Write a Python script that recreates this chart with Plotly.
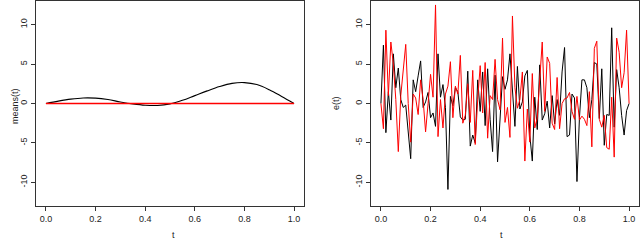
import plotly.graph_objects as go

# ---- data ----
t_mean = [0.00, 0.05, 0.10, 0.15, 0.20, 0.25, 0.30, 0.35, 0.40, 0.45, 0.50,
          0.55, 0.60, 0.65, 0.70, 0.75, 0.80, 0.85, 0.90, 0.95, 1.00]
mean_black = [0.0, 0.3, 0.55, 0.7, 0.68, 0.5, 0.2, -0.05, -0.22, -0.25, -0.05,
              0.4, 1.0, 1.6, 2.15, 2.55, 2.65, 2.4, 1.75, 0.9, 0.0]
mean_red = [0.0] * len(t_mean)

t_err = [i / 100 for i in range(101)]
err_black = [0, 7.4, -3.7, 1.5, -2.1, 6.3, 2.0, 4.5, 0.5, -0.5,
             -0.2, -3.5, -7.0, 3.0, 1.5, 3.5, 5.4, -0.5, 0.2, 1.4,
             -1.8, -1.2, -2.9, 6.3, 0.8, 2.4, -0.5, -10.9, 0.9, -0.3,
             2.0, 1.5, -1.7, -2.1, -2.0, 4.1, -5.4, -4.0, -5.0, 3.0,
             -1.0, 4.0, -2.8, 4.4, -2.0, -6.1, 3.6, -7.4, -2.5, 3.4,
             1.8, 3.0, 6.3, 2.0, -2.9, 4.7, -0.7, 0.2, 3.5, 4.2,
             -4.0, -7.3, 0.8, -3.3, 4.9, -2.1, -1.3, 0.3, -3.1, 1.0,
             -2.6, 0.5, -1.5, 4.0, 7.1, -4.2, -4.0, 1.2, 0.7, -9.9,
             -1.8, 3.0, 3.0, 2.0, -1.8, 0.5, 5.2, 5.0, -1.9, 4.4,
             -5.3, -1.4, -1.5, 9.6, -3.0, 4.3, 2.0, -1.5, -4.0, -0.9,
             0.0]
err_red = [0, -3.2, 9.3, 1.0, 7.8, 5.0, 0.5, -6.1, 1.0, 4.0,
           7.5, 0.0, -4.9, 1.2, 0.7, -1.4, 3.0, 0.5, -3.6, 0.0,
           3.7, 0.8, 12.5, -4.2, 0.5, -3.1, 1.2, 2.2, 5.3, -1.8,
           2.2, 1.2, 6.1, -2.5, -1.5, 2.5, -2.4, 4.2, -5.2, 0.5,
           4.8, -1.2, 5.2, -4.4, 1.0, 0.5, 5.6, 0.5, -0.8, 8.3,
           -2.4, -0.5, -4.3, 11.1, 2.0, -0.6, 0.5, 4.0, -7.3, -0.7,
           -4.9, 3.8, -3.1, -1.8, 2.9, 7.8, -1.0, 5.9, 5.1, -2.5,
           -3.3, 3.3, -3.2, 0.0, 0.6, 0.7, 1.4, -1.0, -2.0, 0.9,
           -2.1, -1.6, -2.0, -2.8, 1.5, -5.5, 7.0, 7.9, -2.0, -3.0,
           -1.5, -5.6, -5.8, 0.8, -6.8, 8.3, 6.5, 2.0, 3.9, 9.3,
           0.0]

x_ticks = [0.0, 0.2, 0.4, 0.6, 0.8, 1.0]
x_tick_text = ["0.0", "0.2", "0.4", "0.6", "0.8", "1.0"]
y_ticks = [-10, -5, 0, 5, 10]
y_tick_text = ["-10", "-5", "0", "5", "10"]

W, H = 640, 242
FONT = "Liberation Sans, Arial, sans-serif"
AX_COL = "#333333"
TXT_COL = "#222222"

fig = go.Figure()
fig.add_trace(go.Scatter(x=t_mean, y=mean_black, mode="lines", line=dict(color="black", width=1.1, shape="spline"),
                         xaxis="x", yaxis="y", showlegend=False))
fig.add_trace(go.Scatter(x=t_mean, y=mean_red, mode="lines", line=dict(color="#ff0000", width=1.3),
                         xaxis="x", yaxis="y", showlegend=False))
fig.add_trace(go.Scatter(x=t_err, y=err_black, mode="lines", line=dict(color="black", width=1),
                         xaxis="x2", yaxis="y2", showlegend=False))
fig.add_trace(go.Scatter(x=t_err, y=err_red, mode="lines", line=dict(color="#ff0000", width=1),
                         xaxis="x2", yaxis="y2", showlegend=False))

ydom = [(H - 206) / H, (H - 1) / H]

def xaxis(domain, anchor):
    return dict(domain=domain, anchor=anchor, range=[-0.04, 1.04], tickvals=x_ticks, ticktext=x_tick_text,
                ticks="outside", ticklen=4, tickcolor=AX_COL, showline=True, linecolor=AX_COL, linewidth=1,
                mirror=True, showgrid=False, zeroline=False, tickfont=dict(size=9, color=TXT_COL, family=FONT),
                automargin=False)

def yaxis(anchor):
    return dict(domain=ydom, anchor=anchor, range=[-13, 13], tickvals=y_ticks, ticktext=y_tick_text,
                ticks="outside", ticklen=4, tickcolor=AX_COL, showline=True, linecolor=AX_COL, linewidth=1,
                mirror=True, showgrid=False, zeroline=False, tickangle=-90,
                tickfont=dict(size=9, color=TXT_COL, family=FONT), automargin=False)

fig.update_layout(
    width=W, height=H, margin=dict(l=0, r=0, t=0, b=0),
    paper_bgcolor="white", plot_bgcolor="white",
    xaxis=xaxis([36 / W, 304 / W], "y"),
    yaxis=yaxis("x"),
    xaxis2=xaxis([371 / W, 639 / W], "y2"),
    yaxis2=yaxis("x2"),
    annotations=[
        dict(text="t", x=170 / W, y=0, yanchor="bottom", xref="paper", yref="paper", showarrow=False,
             font=dict(size=9, color=TXT_COL, family=FONT)),
        dict(text="t", x=505 / W, y=0, yanchor="bottom", xref="paper", yref="paper", showarrow=False,
             font=dict(size=9, color=TXT_COL, family=FONT)),
        dict(text="means(t)", x=8 / W, y=(H - 106) / H, xref="paper", yref="paper", showarrow=False,
             textangle=-90, font=dict(size=9, color=TXT_COL, family=FONT)),
        dict(text="e(t)", x=336 / W, y=(H - 103) / H, xref="paper", yref="paper", showarrow=False,
             textangle=-90, font=dict(size=9, color=TXT_COL, family=FONT)),
    ],
)

fig.write_html("out.html", config={"displayModeBar": False, "staticPlot": True},
               post_script="document.body.style.margin='0';document.body.style.overflow='hidden';")
